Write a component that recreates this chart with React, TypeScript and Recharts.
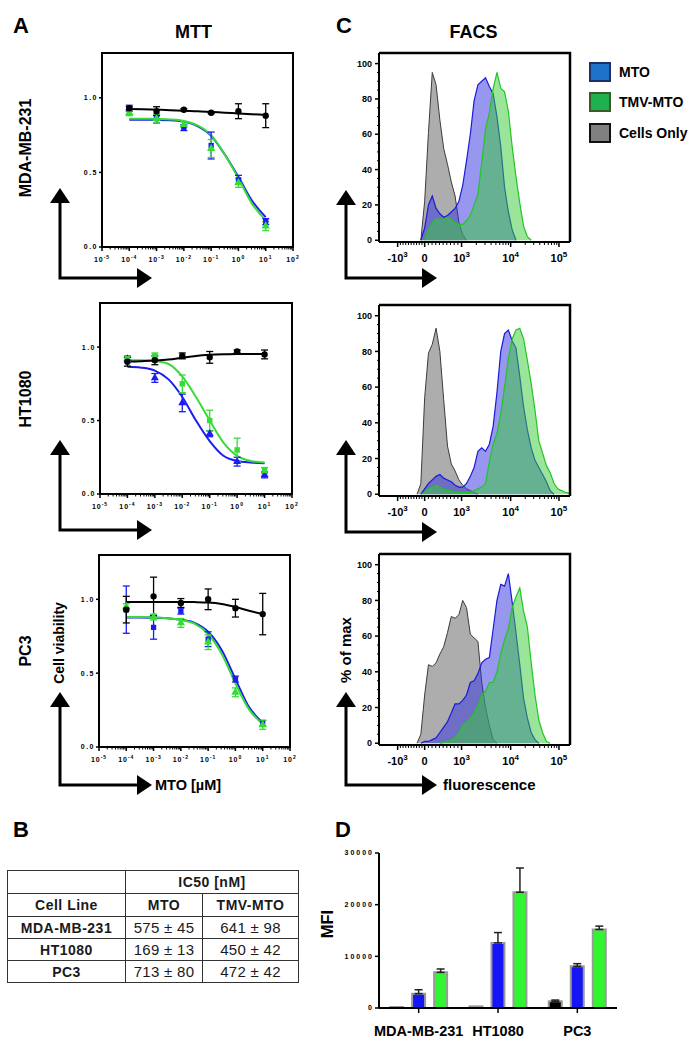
import React from "react";
import {
  ComposedChart,
  BarChart,
  Area,
  Bar,
  Line,
  Scatter,
  XAxis,
  YAxis,
  ErrorBar,
  ReferenceArea,
  Symbols,
} from "recharts";

const FONT = '"Liberation Sans", Arial, Helvetica, sans-serif';
const BLUE = "#1c1cf0";
const GREEN = "#36dc36";
const _ = null;

// ---------- A: MTT, cell viability vs MTO dose (µM) ----------
const doses = [1e-4, 1e-3, 1e-2, 1e-1, 1, 10];
const fitDoses = [1e-4, 3.16e-4, 1e-3, 3.16e-3, 1e-2, 3.16e-2, 0.1, 0.316, 1, 3.16, 10];
const mttDecades = [1e-5, 1e-4, 1e-3, 1e-2, 1e-1, 1, 10, 100];
const mttExponents = ["-5", "-4", "-3", "-2", "-1", "0", "1", "2"];

const mdaCtrl = [0.93, 0.91, 0.92, 0.9, 0.91, 0.88];
const mdaCtrlErr = [0.01, 0.03, 0.006, 0.006, 0.05, 0.08];
const mdaCtrlFit = [0.925, 0.923, 0.92, 0.917, 0.913, 0.91, 0.905, 0.9, 0.895, 0.89, 0.885];
const mdaMto = [0.93, 0.86, 0.8, 0.68, 0.45, 0.17];
const mdaMtoErr = [0.02, 0.03, 0.02, 0.09, 0.03, 0.02];
const mdaMtoFit = [0.853, 0.853, 0.852, 0.85, 0.84, 0.81, 0.745, 0.62, 0.47, 0.31, 0.2];
const mdaTmv = [0.9, 0.86, 0.82, 0.66, 0.43, 0.14];
const mdaTmvErr = [0.02, 0.03, 0.02, 0.06, 0.03, 0.03];
const mdaTmvFit = [0.86, 0.86, 0.858, 0.855, 0.845, 0.815, 0.75, 0.62, 0.46, 0.29, 0.18];

const htCtrl = [0.9, 0.91, 0.94, 0.93, 0.97, 0.95];
const htCtrlErr = [0.03, 0.03, 0.02, 0.04, 0.01, 0.03];
const htCtrlFit = [0.902, 0.904, 0.908, 0.915, 0.928, 0.94, 0.947, 0.951, 0.953, 0.953, 0.953];
const htMto = [0.92, 0.79, 0.62, 0.41, 0.22, 0.13];
const htMtoErr = [0.02, 0.03, 0.06, 0.02, 0.03, 0.02];
const htMtoFit = [0.866, 0.86, 0.84, 0.78, 0.66, 0.5, 0.36, 0.26, 0.225, 0.215, 0.21];
const htTmv = [0.92, 0.94, 0.75, 0.5, 0.3, 0.16];
const htTmvErr = [0.02, 0.02, 0.06, 0.07, 0.08, 0.02];
const htTmvFit = [0.91, 0.91, 0.905, 0.885, 0.8, 0.66, 0.5, 0.35, 0.26, 0.225, 0.215];

const pcCtrl = [0.93, 1.02, 0.975, 1.0, 0.94, 0.9];
const pcCtrlErr = [0.09, 0.13, 0.03, 0.07, 0.06, 0.14];
const pcCtrlFit = [0.982, 0.982, 0.982, 0.982, 0.982, 0.981, 0.978, 0.968, 0.948, 0.922, 0.9];
const pcMto = [0.93, 0.81, 0.92, 0.73, 0.46, 0.16];
const pcMtoErr = [0.16, 0.08, 0.02, 0.05, 0.02, 0.02];
const pcMtoFit = [0.876, 0.876, 0.875, 0.872, 0.862, 0.84, 0.78, 0.655, 0.46, 0.27, 0.165];
const pcTmv = [0.95, 0.88, 0.84, 0.71, 0.37, 0.15];
const pcTmvErr = [0.02, 0.02, 0.03, 0.05, 0.03, 0.03];
const pcTmvFit = [0.88, 0.88, 0.878, 0.872, 0.86, 0.835, 0.765, 0.63, 0.43, 0.255, 0.155];

// ---------- C: FACS histograms (% of max) on a biexponential axis ----------
// x in display units: 0 -> 0, 10^3 -> 0.97, 10^4 -> 2.26, 10^5 -> 3.53
const facsX = [
  -0.2, -0.1, 0, 0.1, 0.2, 0.3, 0.4, 0.5, 0.6, 0.7, 0.8, 0.9, 1, 1.1, 1.2, 1.3, 1.4, 1.5, 1.6, 1.7,
  1.8, 1.9, 2, 2.1, 2.2, 2.3, 2.4, 2.5, 2.6, 2.7, 2.8, 2.9, 3, 3.1, 3.2, 3.3, 3.4, 3.5, 3.6, 3.7, 3.8,
];
const facsMajor = [-0.71, 0, 0.97, 2.26, 3.53];
const facsTickBase = ["-10", "0", "10", "10", "10"];
const facsTickExp = ["3", "", "3", "4", "5"];

const mdaCells = [_, 0, 22, 61, 95, 88, 68, 52, 43, 33, 25, 10, 3, 0];
const mdaMtoHist = [_, 0, 7, 20, 25, 18, 15, 13, 14, 16, 18, 22, 31, 45, 60, 79, 88, 90, 92, 87, 83, 70, 53, 30, 16, 6, 0];
const mdaTmvHist = [_, _, 0, 6, 10, 12, 12, 12, 13, 12, 10, 9, 9, 11, 14, 20, 26, 44, 63, 72, 86, 95, 86, 84, 73, 53, 36, 21, 8, 2, 0];

const htCells = [0, 6, 54, 79, 84, 93, 80, 53, 27, 17, 13, 8, 5, 3, 2, 1, 0];
const htMtoHist = [_, 0, 3, 6, 8, 10, 11, 9, 8, 7, 5, 4, 4, 6, 10, 15, 24, 26, 24, 28, 38, 57, 80, 90, 92, 86, 82, 66, 49, 36, 26, 19, 15, 11, 7, 2, 0];
const htTmvHist = [_, 0, 1, 3, 4, 5, 4, 3, 2, 2, 1, 1, 1, 1, 1, 2, 3, 4, 6, 18, 28, 34, 45, 60, 76, 87, 92, 93, 87, 75, 62, 47, 30, 23, 16, 12, 6, 3, 2, 1, 0.5];

const pcCells = [0, 5, 27, 44, 43, 45, 50, 54, 62, 71, 70, 72, 80, 76, 61, 59, 57, 34, 20, 10, 2, 0];
const pcMtoHist = [_, 0, 1, 1, 2, 3, 6, 9, 12, 17, 22, 22, 24, 27, 34, 35, 39, 45, 47, 48, 64, 80, 89, 88, 95, 79, 62, 44, 25, 14, 6, 2, 0];
const pcTmvHist = [_, _, _, _, _, _, 0, 0.5, 1, 2, 3, 6, 10, 12, 14, 17, 21, 27, 29, 34, 34, 40, 50, 58, 64, 76, 82, 87, 74, 65, 45, 27, 13, 6, 1, 0];

// ---------- B: IC50 table ----------
const tableLines = ["MDA-MB-231", "HT1080", "PC3"];
const ic50Mto = [575, 169, 713];
const ic50MtoSd = [45, 13, 80];
const ic50Tmv = [641, 450, 472];
const ic50TmvSd = [98, 42, 42];

// ---------- D: MFI ----------
const mfiLines = ["MDA-MB-231", "HT1080", "PC3"];
const mfiCells = [200, 320, 1290];
const mfiCellsErr = [null, null, 250];
const mfiMto = [2780, 12600, 8060];
const mfiMtoErr = [750, 2000, 520];
const mfiTmv = [6900, 22400, 15200];
const mfiTmvErr = [650, 4700, 650];

const ks = [2, 3, 4, 5, 6, 7, 8, 9];
const mttTicks = [...mttDecades, ...mttDecades.slice(0, -1).flatMap((d) => ks.map((k) => k * d))].sort((a, b) => a - b);
const tenths = [1, 2, 3, 4, 5, 6, 7, 8, 9];
const facsTicks = [
  ...facsMajor,
  ...tenths.map((k) => (-0.71 * k) / 10),
  ...tenths.map((k) => (0.97 * k) / 10),
  ...ks.map((k) => 0.97 + 1.29 * Math.log10(k)),
  ...ks.map((k) => 2.26 + 1.27 * Math.log10(k)),
].sort((a, b) => a - b);
const facsYTicks = [0, 5, 10, 15, 20, 25, 30, 35, 40, 45, 50, 55, 60, 65, 70, 75, 80, 85, 90, 95, 100];

type Box = { l: number; r: number; t: number; b: number };
const facsBoxes: Box[] = [
  { l: 379, r: 570, t: 53, b: 242 },
  { l: 379, r: 570, t: 305, b: 496 },
  { l: 379, r: 570, t: 554, b: 745 },
];

function MttXTick(props: any) {
  const { x, y, payload } = props;
  const i = mttDecades.findIndex((d) => Math.abs(d - payload.value) / d < 1e-6);
  if (i < 0) return <line x1={x} x2={x} y1={y} y2={y + 2.5} stroke="#000" strokeWidth={1} />;
  return (
    <g>
      <line x1={x} x2={x} y1={y} y2={y + 4} stroke="#000" strokeWidth={1.5} />
      <text x={x} y={y + 15} textAnchor="middle" fontSize={7} fontWeight={700} letterSpacing={1} fill="#000">
        10<tspan dy={-3} fontSize={5}>{mttExponents[i]}</tspan>
      </text>
    </g>
  );
}

function FacsXTick(props: any) {
  const { x, y, payload } = props;
  const i = facsMajor.findIndex((d) => Math.abs(d - payload.value) < 1e-6);
  if (i < 0) return <line x1={x} x2={x} y1={y} y2={y + 3} stroke="#000" strokeWidth={1} />;
  return (
    <g>
      <line x1={x} x2={x} y1={y} y2={y + 5} stroke="#000" strokeWidth={1.5} />
      <text x={x} y={y + 20} textAnchor="middle" fontSize={11} fontWeight={700} fill="#000">
        {facsTickBase[i]}
        {facsTickExp[i] && (
          <tspan dy={-5} fontSize={8}>
            {facsTickExp[i]}
          </tspan>
        )}
      </text>
    </g>
  );
}

function FacsYTick(props: any) {
  const { x, y, payload } = props;
  const v = payload.value;
  const major = v % 20 === 0;
  return (
    <g>
      <line x1={x} x2={x - (major ? 4 : 2)} y1={y} y2={y} stroke="#000" strokeWidth={major ? 1.5 : 1} />
      {major && (
        <text x={x - 7} y={y + 3.2} textAnchor="end" fontSize={9} fontWeight={700} fill="#000">
          {v}
        </text>
      )}
    </g>
  );
}

const marker = (type: any, color: string, size: number) => (p: any) =>
  <Symbols cx={p.cx} cy={p.cy} type={type} size={size} fill={color} stroke="none" />;

function MttChart(props: any) {
  const { box, ctrl, ctrlErr, ctrlFit, mto, mtoErr, mtoFit, tmv, tmvErr, tmvFit, mtoShape, tmvShape } = props;
  const pts = (v: number[], e: number[]) => doses.map((x, i) => ({ x, y: v[i], err: e[i] }));
  const fit = (v: number[]) => fitDoses.map((x, i) => ({ x, y: v[i] }));
  const b = box as Box;
  return (
    <div style={{ position: "absolute", left: b.l - 52, top: b.t - 8 }}>
      <ComposedChart width={b.r - b.l + 64} height={b.b - b.t + 32} margin={{ top: 8, right: 12, left: 0, bottom: 0 }}>
        <XAxis
          dataKey="x"
          type="number"
          scale="log"
          domain={[1e-5, 100]}
          allowDataOverflow
          ticks={mttTicks}
          interval={0}
          tick={(p: any) => <MttXTick {...p} />}
          tickLine={false}
          tickSize={0}
          tickMargin={0}
          height={24}
          axisLine={{ stroke: "#000", strokeWidth: 2 }}
        />
        <YAxis
          type="number"
          domain={[0, 1.3]}
          allowDataOverflow
          ticks={[0, 0.5, 1]}
          interval={0}
          tickFormatter={(v: number) => v.toFixed(1)}
          width={52}
          tickSize={3}
          tickMargin={1}
          axisLine={{ stroke: "#000", strokeWidth: 2 }}
          tickLine={{ stroke: "#000", strokeWidth: 1.5 }}
          tick={{ fontSize: 7, fontWeight: 700, fill: "#000", letterSpacing: 1.5 }}
        />
        <ReferenceArea x1={1e-5} x2={100} y1={0} y2={1.3} fill="none" stroke="#000" strokeWidth={2} ifOverflow="visible" />
        <Line data={fit(mtoFit)} dataKey="y" type="monotone" stroke={BLUE} strokeWidth={2} dot={false} activeDot={false} isAnimationActive={false} />
        <Line data={fit(tmvFit)} dataKey="y" type="monotone" stroke={GREEN} strokeWidth={2} dot={false} activeDot={false} isAnimationActive={false} />
        <Line data={fit(ctrlFit)} dataKey="y" type="monotone" stroke="#000" strokeWidth={2} dot={false} activeDot={false} isAnimationActive={false} />
        <Scatter data={pts(mto, mtoErr)} dataKey="y" shape={marker(mtoShape, BLUE, 28)} isAnimationActive={false}>
          <ErrorBar dataKey="err" direction="y" width={3.5} stroke={BLUE} strokeWidth={1.3} />
        </Scatter>
        <Scatter data={pts(tmv, tmvErr)} dataKey="y" shape={marker(tmvShape, GREEN, 30)} isAnimationActive={false}>
          <ErrorBar dataKey="err" direction="y" width={3.5} stroke={GREEN} strokeWidth={1.3} />
        </Scatter>
        <Scatter data={pts(ctrl, ctrlErr)} dataKey="y" shape={marker("circle", "#000", 32)} isAnimationActive={false}>
          <ErrorBar dataKey="err" direction="y" width={3.5} stroke="#000" strokeWidth={1.3} />
        </Scatter>
      </ComposedChart>
    </div>
  );
}

function FacsChart(props: any) {
  const { box, cells, mto, tmv } = props;
  const b = box as Box;
  const data = facsX.map((x, i) => ({ x, cells: cells[i] ?? null, mto: mto[i] ?? null, tmv: tmv[i] ?? null }));
  return (
    <div style={{ position: "absolute", left: b.l - 40, top: b.t - 6 }}>
      <ComposedChart width={b.r - b.l + 46} height={b.b - b.t + 34} data={data} margin={{ top: 6, right: 6, left: 0, bottom: 0 }}>
        <XAxis
          dataKey="x"
          type="number"
          domain={[-1.2, 3.82]}
          allowDataOverflow
          ticks={facsTicks}
          interval={0}
          tick={(p: any) => <FacsXTick {...p} />}
          tickLine={false}
          tickSize={0}
          tickMargin={0}
          height={28}
          axisLine={{ stroke: "#000", strokeWidth: 2 }}
        />
        <YAxis
          type="number"
          domain={[-1, 106]}
          allowDataOverflow
          ticks={facsYTicks}
          interval={0}
          tick={(p: any) => <FacsYTick {...p} />}
          tickLine={false}
          tickSize={0}
          tickMargin={0}
          width={40}
          axisLine={{ stroke: "#000", strokeWidth: 2 }}
        />
        <Area dataKey="cells" type="linear" baseValue={0} fill="#7a7a7a" fillOpacity={0.62} stroke="#3c3c3c" strokeWidth={1} dot={false} activeDot={false} isAnimationActive={false} />
        <Area dataKey="mto" type="linear" baseValue={0} fill="#2f2fe0" fillOpacity={0.5} stroke="#1a1ad8" strokeWidth={1.2} dot={false} activeDot={false} isAnimationActive={false} />
        <Area dataKey="tmv" type="linear" baseValue={0} fill="#35cc35" fillOpacity={0.5} stroke="#22c622" strokeWidth={1.2} dot={false} activeDot={false} isAnimationActive={false} />
      </ComposedChart>
    </div>
  );
}

function MfiChart() {
  const data = mfiLines.map((name, i) => ({
    name,
    cells: mfiCells[i],
    cellsErr: mfiCellsErr[i] == null ? null : [0, mfiCellsErr[i]],
    mto: mfiMto[i],
    mtoErr: [0, mfiMtoErr[i]],
    tmv: mfiTmv[i],
    tmvErr: [0, mfiTmvErr[i]],
  }));
  const bar = { stroke: "#9a9a9a", strokeWidth: 2, isAnimationActive: false };
  const err = { direction: "y" as const, width: 4, stroke: "#222", strokeWidth: 1.5 };
  return (
    <div style={{ position: "absolute", left: 329, top: 845 }}>
      <BarChart width={296} height={200} data={data} margin={{ top: 8, right: 8, left: 0, bottom: 0 }} barCategoryGap="14%" barGap={9}>
        <XAxis
          dataKey="name"
          interval={0}
          height={37}
          tickSize={5}
          tickMargin={13}
          axisLine={{ stroke: "#000", strokeWidth: 2 }}
          tickLine={{ stroke: "#000", strokeWidth: 1.5 }}
          tick={{ fontSize: 14.5, fontWeight: 700, fill: "#000" }}
        />
        <YAxis
          type="number"
          domain={[0, 30000]}
          allowDataOverflow
          ticks={[0, 10000, 20000, 30000]}
          interval={0}
          width={50}
          tickSize={4}
          tickMargin={1}
          axisLine={{ stroke: "#000", strokeWidth: 2 }}
          tickLine={{ stroke: "#000", strokeWidth: 1.5 }}
          tick={{ fontSize: 7, fontWeight: 700, fill: "#000", letterSpacing: 2 }}
        />
        <Bar dataKey="cells" fill="#000" {...bar}>
          <ErrorBar dataKey="cellsErr" {...err} />
        </Bar>
        <Bar dataKey="mto" fill="#1515f5" {...bar}>
          <ErrorBar dataKey="mtoErr" {...err} />
        </Bar>
        <Bar dataKey="tmv" fill="#30f530" {...bar}>
          <ErrorBar dataKey="tmvErr" {...err} />
        </Bar>
      </BarChart>
    </div>
  );
}

function IcTable() {
  const cell: React.CSSProperties = {
    border: "1.5px solid #333",
    padding: 0,
    textAlign: "center",
    verticalAlign: "middle",
    lineHeight: 1,
  };
  const head: React.CSSProperties = { ...cell, fontWeight: 700, fontSize: 14, letterSpacing: 0.5 };
  const val: React.CSSProperties = { ...cell, fontSize: 15, letterSpacing: 0.3 };
  return (
    <table
      style={{
        position: "absolute",
        left: 7,
        top: 870,
        width: 291,
        borderCollapse: "collapse",
        tableLayout: "fixed",
        fontFamily: FONT,
        color: "#1a1a1a",
      }}
    >
      <colgroup>
        <col style={{ width: 118 }} />
        <col style={{ width: 77 }} />
        <col style={{ width: 96 }} />
      </colgroup>
      <tbody>
        <tr style={{ height: 23 }}>
          <td style={cell}></td>
          <td style={head} colSpan={2}>IC50 [nM]</td>
        </tr>
        <tr style={{ height: 23 }}>
          <td style={head}>Cell Line</td>
          <td style={head}>MTO</td>
          <td style={head}>TMV-MTO</td>
        </tr>
        {tableLines.map((name, i) => (
          <tr key={name} style={{ height: 22 }}>
            <td style={head}>{name}</td>
            <td style={val}>{`${ic50Mto[i]} ± ${ic50MtoSd[i]}`}</td>
            <td style={val}>{`${ic50Tmv[i]} ± ${ic50TmvSd[i]}`}</td>
          </tr>
        ))}
      </tbody>
    </table>
  );
}

function Arrows({ vx, hy, vtip, htip }: { vx: number; hy: number; vtip: number; htip: number }) {
  return (
    <g>
      <path d={`M${vx},${vtip + 13} L${vx},${hy} L${htip - 13},${hy}`} fill="none" stroke="#000" strokeWidth={3} strokeLinejoin="miter" />
      <polygon points={`${vx - 10},${vtip + 15} ${vx + 10},${vtip + 15} ${vx},${vtip}`} fill="#000" />
      <polygon points={`${htip - 15},${hy - 10} ${htip - 15},${hy + 10} ${htip},${hy}`} fill="#000" />
    </g>
  );
}

function Overlay() {
  const bold = { fontWeight: 700, fill: "#000" };
  const legend = [
    { label: "MTO", fill: "#1e73c8", stroke: "#1b2f6b", y: 63 },
    { label: "TMV-MTO", fill: "#1fb04f", stroke: "#3a5a28", y: 93 },
    { label: "Cells Only", fill: "#808080", stroke: "#111", y: 124 },
  ];
  return (
    <svg width={695} height={1048} style={{ position: "absolute", left: 0, top: 0, pointerEvents: "none" }} fontFamily={FONT}>
      {/* top and right edges of the FACS plot frames */}
      {facsBoxes.map((b, i) => (
        <path key={i} d={`M${b.l},${b.t} H${b.r} V${b.b}`} fill="none" stroke="#000" strokeWidth={2.5} />
      ))}
      <text x={13} y={33} fontSize={22} {...bold}>A</text>
      <text x={336} y={33} fontSize={22} {...bold}>C</text>
      <text x={13} y={837} fontSize={22} {...bold}>B</text>
      <text x={335} y={837} fontSize={22} {...bold}>D</text>
      <text x={193.5} y={38} fontSize={18} textAnchor="middle" {...bold}>MTT</text>
      <text x={473.5} y={38} fontSize={18} textAnchor="middle" {...bold}>FACS</text>

      <text transform="translate(25,148) rotate(-90)" fontSize={16} textAnchor="middle" dominantBaseline="central" {...bold}>MDA-MB-231</text>
      <text transform="translate(25,399) rotate(-90)" fontSize={16} textAnchor="middle" dominantBaseline="central" {...bold}>HT1080</text>
      <text transform="translate(25,651) rotate(-90)" fontSize={16} textAnchor="middle" dominantBaseline="central" {...bold}>PC3</text>
      <text transform="translate(59,643) rotate(-90)" fontSize={14} textAnchor="middle" dominantBaseline="central" {...bold}>Cell viability</text>
      <text x={155} y={790} fontSize={14.5} {...bold}>MTO [µM]</text>
      <text transform="translate(345,650) rotate(-90)" fontSize={15} textAnchor="middle" dominantBaseline="central" {...bold}>% of max</text>
      <text x={443} y={790} fontSize={15} {...bold}>fluorescence</text>
      <text transform="translate(327,924) rotate(-90)" fontSize={16.5} textAnchor="middle" dominantBaseline="central" {...bold}>MFI</text>

      <Arrows vx={60} hy={278} vtip={188} htip={152} />
      <Arrows vx={60} hy={530} vtip={440} htip={152} />
      <Arrows vx={60} hy={785} vtip={692} htip={152} />
      <Arrows vx={346} hy={278} vtip={190} htip={437} />
      <Arrows vx={346} hy={532} vtip={440} htip={437} />
      <Arrows vx={346} hy={785} vtip={692} htip={437} />

      {legend.map((l) => (
        <g key={l.label}>
          <rect x={590} y={l.y} width={20} height={18} fill={l.fill} stroke={l.stroke} strokeWidth={2} />
          <text x={619} y={l.y + 14} fontSize={14} {...bold}>{l.label}</text>
        </g>
      ))}
    </svg>
  );
}

export default function App() {
  const mttRows = [
    { box: { l: 102, r: 293, t: 53, b: 247 }, ctrl: mdaCtrl, ctrlErr: mdaCtrlErr, ctrlFit: mdaCtrlFit, mto: mdaMto, mtoErr: mdaMtoErr, mtoFit: mdaMtoFit, tmv: mdaTmv, tmvErr: mdaTmvErr, tmvFit: mdaTmvFit, mtoShape: "square", tmvShape: "triangle" },
    { box: { l: 100, r: 292, t: 303, b: 494 }, ctrl: htCtrl, ctrlErr: htCtrlErr, ctrlFit: htCtrlFit, mto: htMto, mtoErr: htMtoErr, mtoFit: htMtoFit, tmv: htTmv, tmvErr: htTmvErr, tmvFit: htTmvFit, mtoShape: "triangle", tmvShape: "square" },
    { box: { l: 99, r: 290, t: 555, b: 747 }, ctrl: pcCtrl, ctrlErr: pcCtrlErr, ctrlFit: pcCtrlFit, mto: pcMto, mtoErr: pcMtoErr, mtoFit: pcMtoFit, tmv: pcTmv, tmvErr: pcTmvErr, tmvFit: pcTmvFit, mtoShape: "square", tmvShape: "triangle" },
  ];
  const facsData = [
    { cells: mdaCells, mto: mdaMtoHist, tmv: mdaTmvHist },
    { cells: htCells, mto: htMtoHist, tmv: htTmvHist },
    { cells: pcCells, mto: pcMtoHist, tmv: pcTmvHist },
  ];
  return (
    <div
      style={{
        position: "absolute",
        left: 0,
        top: 0,
        width: 695,
        height: 1048,
        background: "#fff",
        overflow: "hidden",
        fontFamily: FONT,
      }}
    >
      {mttRows.map((r, i) => (
        <MttChart key={i} {...r} />
      ))}
      {facsData.map((r, i) => (
        <FacsChart key={i} box={facsBoxes[i]} {...r} />
      ))}
      <IcTable />
      <MfiChart />
      <Overlay />
    </div>
  );
}
